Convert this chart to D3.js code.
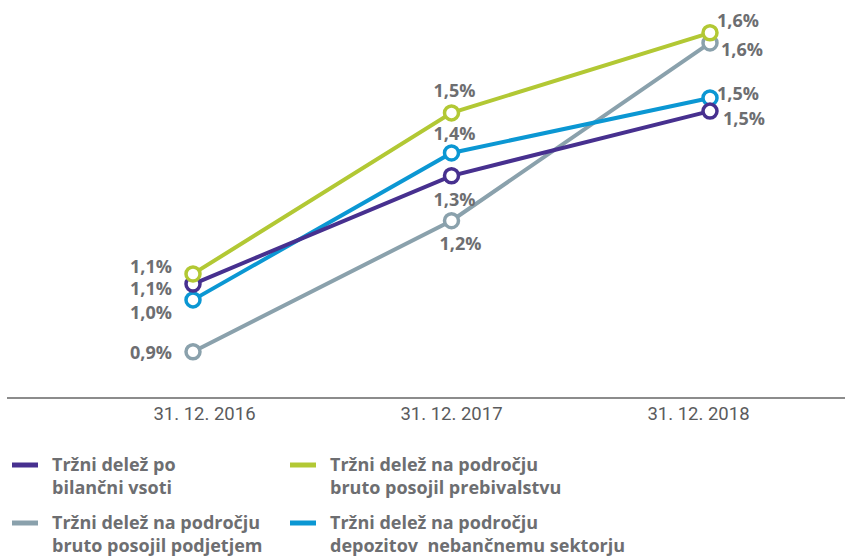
<!DOCTYPE html>
<html>
<head>
<meta charset="utf-8">
<script src="https://cdn.jsdelivr.net/npm/d3@7"></script>
<style>
  html, body { margin: 0; padding: 0; background: #fff; }
  svg { display: block; }
</style>
</head>
<body>
<svg id="chart" width="845" height="556"></svg>
<script>
// Reporting dates on the x axis
const dates = ["31. 12. 2016", "31. 12. 2017", "31. 12. 2018"];

// Market shares in %, one array per series
const bilancnaVsota   = [1.069, 1.315, 1.462];
const posojilaPreb    = [1.092, 1.458, 1.640];
const posojilaPodj    = [0.915, 1.213, 1.617];
const depozitiNebanc  = [1.033, 1.367, 1.492];

// Legend texts (two lines each)
const seriesNames = [
  ["Tržni delež po", "bilančni vsoti"],
  ["Tržni delež na področju", "bruto posojil prebivalstvu"],
  ["Tržni delež na področju", "bruto posojil podjetjem"],
  ["Tržni delež na področju", "depozitov  nebančnemu sektorju"]
];

const seriesValues = [bilancnaVsota, posojilaPreb, posojilaPodj, depozitiNebanc];
const seriesColors = ["#47308f", "#b2c834", "#8aa1ac", "#0b97d3"];

// Value label placement relative to each point: [dx, dy, anchor]
const labelPlacement = [
  [[-21, 5, "end"], [3, 24, "middle"], [13, 8, "start"]],
  [[-21, -7, "end"], [3, -22, "middle"], [7, -12, "start"]],
  [[-21, 1, "end"], [9, 23, "middle"], [11, 7, "start"]],
  [[-21, 13, "end"], [3, -19, "middle"], [7, -4, "start"]]
];

// Legend layout: [x, y] of each entry
const legendPos = [[12, 465], [290, 465], [12, 523], [290, 523]];

// Drawing order: grey first, then blue, purple, green on top
const drawOrder = [2, 3, 0, 1];

const svg = d3.select("#chart");
const textGrey = "#6d6e71";

// Point positions of the series and the slightly narrower band of date labels
const x = d3.scalePoint().domain(dates).range([193, 710]);
const xLabels = d3.scalePoint().domain(dates).range([204, 698]);
const y = d3.scaleLinear().domain([0.81, 1.71]).range([398, 2]);

// Baseline axis
const xAxis = d3.axisBottom(xLabels).tickSize(0).tickPadding(9);
const axisG = svg.append("g").attr("transform", "translate(0,398)").call(xAxis);
axisG.select(".domain").remove();
svg.append("line")
  .attr("x1", 7).attr("x2", 845)
  .attr("y1", 398).attr("y2", 398)
  .attr("stroke", "#8c8c8c").attr("stroke-width", 2);
axisG.selectAll("text")
  .attr("font-family", "'Roboto', sans-serif")
  .attr("font-weight", 400)
  .attr("font-size", 18.5)
  .attr("fill", "#5a5b5d");

const line = d3.line().x((d, i) => x(dates[i])).y(d => y(d));
const fmt = v => d3.format(".1f")(v).replace(".", ",") + "%";

drawOrder.forEach(si => {
  const vals = seriesValues[si];
  const g = svg.append("g");
  g.append("path")
    .datum(vals)
    .attr("d", line)
    .attr("fill", "none")
    .attr("stroke", seriesColors[si])
    .attr("stroke-width", 4);
  g.selectAll("circle")
    .data(vals)
    .join("circle")
    .attr("cx", (d, i) => x(dates[i]))
    .attr("cy", d => y(d))
    .attr("r", 7)
    .attr("fill", "#fff")
    .attr("stroke", seriesColors[si])
    .attr("stroke-width", 3.5);
});

// Value labels
seriesValues.forEach((vals, si) => {
  svg.append("g").selectAll("text")
    .data(vals)
    .join("text")
    .attr("x", (d, i) => x(dates[i]) + labelPlacement[si][i][0])
    .attr("y", (d, i) => y(d) + labelPlacement[si][i][1])
    .attr("dy", "0.35em")
    .attr("text-anchor", (d, i) => labelPlacement[si][i][2])
    .attr("font-family", "'Open Sans', sans-serif")
    .attr("font-weight", 700)
    .attr("font-size", 18)
    .attr("fill", textGrey)
    .text(d => fmt(d));
});

// Legend
const legend = svg.append("g");
seriesNames.forEach((lines, si) => {
  const [lx, ly] = legendPos[si];
  legend.append("line")
    .attr("x1", lx).attr("x2", lx + 26)
    .attr("y1", ly).attr("y2", ly)
    .attr("stroke", seriesColors[si]).attr("stroke-width", 5);
  const t = legend.append("text")
    .attr("x", lx + 40)
    .attr("y", ly)
    .attr("font-family", "'Open Sans', sans-serif")
    .attr("font-weight", 700)
    .attr("font-size", 18)
    .attr("fill", textGrey)
    .attr("xml:space", "preserve");
  lines.forEach((s, k) => {
    t.append("tspan")
      .attr("x", lx + 40)
      .attr("y", ly + k * 22.5)
      .attr("dy", "0.35em")
      .text(s);
  });
});
</script>
</body>
</html>
